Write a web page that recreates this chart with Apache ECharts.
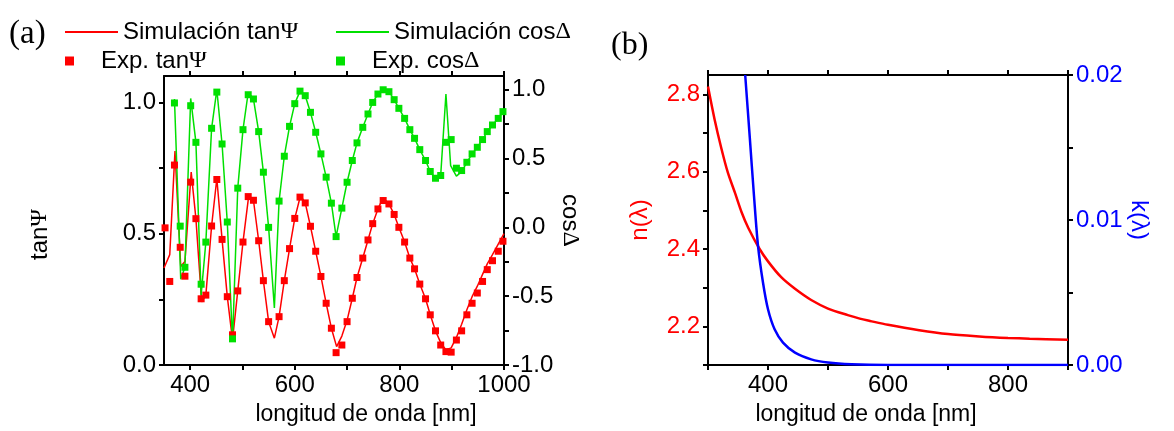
<!DOCTYPE html>
<html><head><meta charset="utf-8">
<script src="https://cdn.jsdelivr.net/npm/echarts@6/dist/echarts.min.js"></script>
<style>html,body{margin:0;padding:0;background:#fff}#c{width:1174px;height:431px}</style>
</head><body><div id="c"></div>
<script>
// ---- Panel (a): ellipsometry ----
const expLambda = [352,361,370,381,390,401,411,421,430,441,451,461,471,481,491,501,511,521,531,540,550,570,580,590,600,610,620,630,640,650,660,670,679,690,700,710,719,730,740,749,759,769,780,790,799,810,820,829,839,850,859,869,879,889,899,909,919,929,939,949,959,968,978,989,998];
const expTan = [0.522,0.318,0.761,0.448,0.338,0.696,0.557,0.252,0.266,0.529,0.706,0.478,0.260,0.115,0.282,0.468,0.641,0.627,0.473,0.321,0.165,0.184,0.321,0.443,0.558,0.639,0.617,0.528,0.433,0.337,0.235,0.140,0.047,0.076,0.165,0.254,0.333,0.407,0.476,0.538,0.594,0.626,0.613,0.573,0.524,0.468,0.407,0.366,0.308,0.252,0.191,0.130,0.076,0.051,0.049,0.095,0.130,0.191,0.235,0.274,0.318,0.363,0.397,0.433,0.471];
const expCos = [null,null,0.904,0.009,-0.290,0.884,0.618,-0.413,-0.107,0.720,0.983,0.606,0.039,-0.81,0.285,0.710,0.964,0.933,0.696,0.401,0.0,0.191,0.517,0.734,0.899,0.990,0.957,0.836,0.691,0.534,0.365,0.176,-0.067,0.140,0.328,0.486,0.614,0.727,0.824,0.908,0.969,1.0,0.986,0.928,0.865,0.792,0.710,0.647,0.565,0.486,0.406,0.357,0.377,0.618,0.638,0.430,0.413,0.473,0.534,0.582,0.638,0.696,0.744,0.792,0.841];

const simTanLambda = [350,361,371,382,390,402,411,422,430,441,451,461,471,481,491,501,512,521,531,540,550,561,570,580,590,600,611,620,630,640,650,660,670,680,690,700,710,719,730,740,749,759,769,780,790,799,810,820,829,839,850,859,869,879,889,899,909,919,929,939,949,959,968,978,989,1000];
const simTan = [0.369,0.42,0.814,0.375,0.394,0.734,0.557,0.24,0.266,0.529,0.71,0.478,0.26,0.095,0.282,0.468,0.645,0.627,0.473,0.321,0.165,0.102,0.184,0.321,0.443,0.558,0.645,0.617,0.528,0.433,0.337,0.235,0.140,0.070,0.11,0.170,0.254,0.333,0.407,0.476,0.538,0.594,0.636,0.613,0.573,0.524,0.468,0.407,0.366,0.308,0.252,0.191,0.130,0.085,0.057,0.065,0.105,0.155,0.21,0.26,0.30,0.345,0.385,0.42,0.46,0.50];

const simCosLambda = [370,382,390,401,411,421,430,441,451,461,471,481,491,501,511,521,531,540,550,561,570,580,590,600,610,620,630,640,650,660,670,679,690,700,710,719,730,740,749,759,769,780,790,799,810,820,829,839,850,859,869,879,889,898,909,919,929,939,949,959,968,978,989,1000];
const simCos = [0.933,-0.377,-0.29,0.937,0.618,-0.493,-0.107,0.72,1.0,0.606,0.039,-0.83,0.285,0.71,0.98,0.933,0.696,0.401,0.0,-0.585,0.191,0.517,0.734,0.899,0.99,0.957,0.836,0.691,0.534,0.365,0.176,-0.067,0.140,0.328,0.486,0.614,0.727,0.824,0.908,0.969,1.0,0.986,0.928,0.865,0.792,0.710,0.647,0.565,0.486,0.406,0.35,0.38,0.969,0.449,0.372,0.405,0.473,0.534,0.582,0.638,0.696,0.744,0.792,0.85];

const aXTicks = [400,500,600,700,800,900,1000];
const aXLabels = [400,600,800,1000];
const aTanTicks = [0,0.25,0.5,0.75,1.0];
const aTanLabels = [0,0.5,1.0];
const aCosTicks = [-1,-0.75,-0.5,-0.25,0,0.25,0.5,0.75,1.0];
const aCosLabels = [-1,-0.5,0,0.5,1.0];

// ---- Panel (b): optical constants ----
const nLambda = [300,311,322,333,345,356,367,386,400,422,445,472,500,533,553,570,600,652,700,752,800,836,900];
const nVal = [2.820,2.735,2.662,2.598,2.545,2.495,2.455,2.400,2.368,2.327,2.297,2.268,2.246,2.229,2.220,2.214,2.204,2.190,2.180,2.174,2.170,2.168,2.165];
const kLambda = [362,369.5,376.7,383.4,391.7,400,411,425,445,472,500,539,600,700,800,900];
const kVal = [0.02,0.01577,0.01164,0.0082,0.00567,0.00384,0.00246,0.00154,0.00085,0.00039,0.00017,0.00005,0,0,0,0];

const bXTicks = [300,400,500,600,700,800,900];
const bXLabels = [400,600,800];
const bNTicks = [2.1,2.2,2.3,2.4,2.5,2.6,2.7,2.8];
const bNLabels = [2.2,2.4,2.6,2.8];
const bKTicks = [0,0.005,0.01,0.015,0.02];
const bKLabels = [0,0.01,0.02];

const pairs = (xs, ys) => xs.map((x, i) => [x, ys[i]]).filter(p => p[1] !== null);

const FONT = 'Liberation Sans';
const FS = 24;
const RED = '#ff0000', GREEN = '#00e000', BLUE = '#0000ff';
const greekRich = {
  t: { fontFamily: FONT, fontSize: FS, color: '#000' },
  g: { fontFamily: 'Liberation Serif', fontSize: FS, color: '#000' }
};
const greekFmt = s => s.replace(/^(.*?)([ΨΔ])$/, '{t|$1}{g|$2}');

const axLine = { show: true, onZero: false, lineStyle: { color: '#000', width: 2 } };
function xAx(grid, min, max, ticks, labels, pos, withName, namePad) {
  return {
    type: 'value', gridIndex: grid, min, max, position: pos,
    axisLine: axLine,
    axisTick: { show: true, inside: false, length: 5, customValues: ticks, lineStyle: { color: '#000', width: 2 } },
    axisLabel: withName ? { show: true, customValues: labels, margin: 8, color: '#000', fontFamily: FONT, fontSize: FS, formatter: v => String(v) } : { show: false },
    splitLine: { show: false },
    name: withName ? 'longitud de onda [nm]' : '',
    nameLocation: 'middle', nameGap: 38,
    nameTextStyle: { fontFamily: FONT, fontSize: 23, color: '#000', padding: namePad || 0 }
  };
}
function yAx(grid, min, max, ticks, labels, pos, fmt, color, name, nameGap, nameRotate, rich, namePad) {
  return {
    type: 'value', gridIndex: grid, min, max, position: pos,
    axisLine: axLine,
    axisTick: { show: true, inside: false, length: 5, customValues: ticks, lineStyle: { color: '#000', width: 2 } },
    axisLabel: { show: true, customValues: labels, margin: 8, color, fontFamily: FONT, fontSize: FS, formatter: fmt },
    splitLine: { show: false },
    name, nameLocation: 'middle', nameGap, nameRotate,
    nameTextStyle: Object.assign({ fontFamily: FONT, fontSize: FS, color, padding: namePad || 0 }, rich ? { rich } : {})
  };
}

const chart = echarts.init(document.getElementById('c'), null, { renderer: 'canvas' });
const legendBase = {
  orient: 'horizontal', padding: 0, itemGap: 0, selectedMode: false,
  textStyle: { fontFamily: FONT, fontSize: FS, color: '#000', rich: greekRich },
  formatter: greekFmt, itemWidth: 53
};
const lineIcon = 'rect';
const sqIcon = 'path://M0,0L10,0L10,10L0,10Z';

chart.setOption({
  animation: false,
  backgroundColor: '#fff',
  grid: [
    { left: 164, top: 76, width: 340, height: 290 },
    { left: 708, top: 75, width: 360, height: 291 }
  ],
  xAxis: [
    xAx(0, 350, 1000, aXTicks, aXLabels, 'bottom', true, [0, 0, 0, 64]),
    xAx(0, 350, 1000, aXTicks, aXLabels, 'top', false),
    xAx(1, 300, 900, bXTicks, bXLabels, 'bottom', true, [0, 44, 0, 0]),
    xAx(1, 300, 900, bXTicks, bXLabels, 'top', false)
  ],
  yAxis: [
    yAx(0, 0, 1.1, aTanTicks, aTanLabels, 'left', v => v.toFixed(1), '#000', '{t|tan}{g|Ψ}', 112, 90, greekRich, [0, 28, 0, 0]),
    yAx(0, -1, 1.1, aCosTicks, aCosLabels, 'right', v => v.toFixed(1), '#000', '{t|cos}{g|Δ}', 54, -90, greekRich),
    yAx(1, 2.1, 2.85, bNTicks, bNLabels, 'left', v => v.toFixed(1), RED, 'n(λ)', 56, 90, null),
    yAx(1, 0, 0.02, bKTicks, bKLabels, 'right', v => v.toFixed(2), BLUE, 'k(λ)', 28, -90, null)
  ],
  legend: [
    Object.assign({}, legendBase, { left: 65, top: 20, itemHeight: 2, icon: lineIcon, data: ['Simulación tanΨ'] }),
    Object.assign({}, legendBase, { left: 336, top: 20, itemHeight: 2, icon: lineIcon, data: ['Simulación cosΔ'] }),
    Object.assign({}, legendBase, { left: 65, top: 49, itemHeight: 9, icon: sqIcon, data: ['Exp. tanΨ'] }),
    Object.assign({}, legendBase, { left: 336, top: 49, itemHeight: 9, icon: sqIcon, data: ['Exp. cosΔ'] })
  ],
  graphic: [
    { type: 'text', left: 9, top: 18, style: { text: '(a)', fontFamily: 'Liberation Serif', fontSize: 33, fill: '#000' } },
    { type: 'text', left: 611, top: 30, style: { text: '(b)', fontFamily: 'Liberation Serif', fontSize: 32, fill: '#000' } }
  ],
  series: [
    { name: 'Simulación tanΨ', type: 'line', xAxisIndex: 0, yAxisIndex: 0, data: pairs(simTanLambda, simTan), showSymbol: false, symbol: 'none', lineStyle: { color: RED, width: 1.5 }, itemStyle: { color: RED }, z: 2 },
    { name: 'Simulación cosΔ', type: 'line', xAxisIndex: 0, yAxisIndex: 1, data: pairs(simCosLambda, simCos), showSymbol: false, symbol: 'none', lineStyle: { color: GREEN, width: 1.5 }, itemStyle: { color: GREEN }, z: 2 },
    { name: 'Exp. tanΨ', type: 'scatter', xAxisIndex: 0, yAxisIndex: 0, data: pairs(expLambda, expTan), symbol: 'rect', symbolSize: 7, itemStyle: { color: RED, opacity: 1 }, z: 3 },
    { name: 'Exp. cosΔ', type: 'scatter', xAxisIndex: 0, yAxisIndex: 1, data: pairs(expLambda, expCos), symbol: 'rect', symbolSize: 7, itemStyle: { color: GREEN, opacity: 1 }, z: 3 },
    { name: 'n', type: 'line', xAxisIndex: 2, yAxisIndex: 2, data: pairs(nLambda, nVal), showSymbol: false, symbol: 'none', smooth: 0.3, lineStyle: { color: RED, width: 2.5 }, z: 2 },
    { name: 'k', type: 'line', xAxisIndex: 2, yAxisIndex: 3, data: pairs(kLambda, kVal), showSymbol: false, symbol: 'none', smooth: 0.3, lineStyle: { color: BLUE, width: 2.5 }, z: 2 }
  ]
});
</script></body></html>
